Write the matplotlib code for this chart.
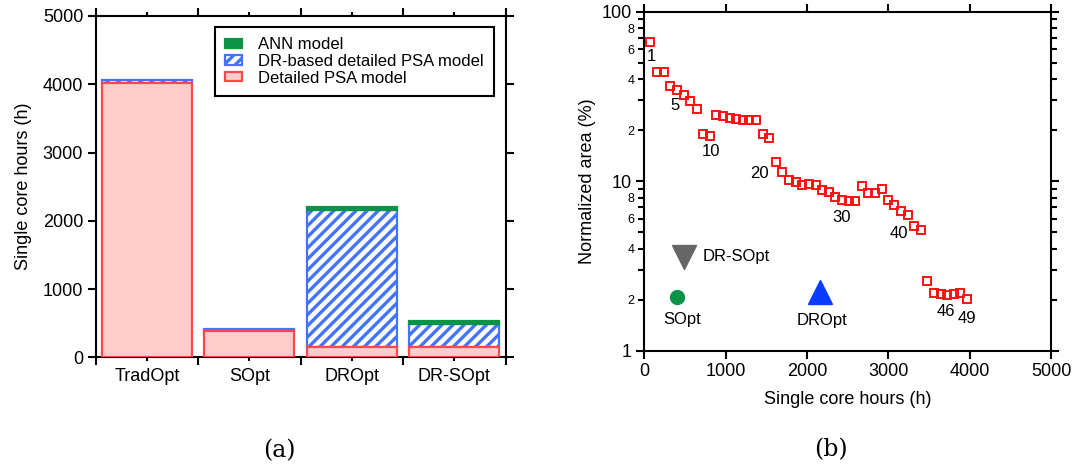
import numpy as np
import matplotlib
matplotlib.use("Agg")
import matplotlib.pyplot as plt
from matplotlib.ticker import FixedLocator, FixedFormatter

plt.rcParams['font.family'] = ['Liberation Sans', 'DejaVu Sans']
plt.rcParams['hatch.linewidth'] = 2.4
plt.rcParams['axes.linewidth'] = 1.5

# (a) stacked core hours per strategy
methods = ['TradOpt', 'SOpt', 'DROpt', 'DR-SOpt']
detailed_psa = [4020, 385, 150, 150]
dr_psa = [40, 35, 2010, 335]
ann = [0, 0, 40, 45]

# (b) normalized area vs. single core hours, one point per iteration
iter_hours = [70, 156, 242, 316, 398, 484, 562, 644, 725, 807,
              881, 971, 1050, 1127, 1209, 1290, 1376, 1455, 1536, 1615,
              1696, 1778, 1861, 1942, 2024, 2107, 2184, 2266, 2347, 2426,
              2512, 2593, 2672, 2749, 2835, 2918, 2995, 3073, 3155, 3237,
              3318, 3401, 3478, 3560, 3643, 3720, 3803, 3884, 3966]
iter_area = [66.5, 44.2, 44.2, 36.7, 34.6, 32.1, 29.9, 26.5, 19.0, 18.6,
             24.5, 24.1, 23.6, 23.2, 23.0, 23.0, 23.0, 19.1, 18.0, 12.9,
             11.3, 10.1, 9.9, 9.5, 9.6, 9.5, 8.9, 8.6, 8.1, 7.7,
             7.6, 7.6, 9.4, 8.55, 8.55, 9.0, 7.7, 7.26, 6.7, 6.3,
             5.46, 5.12, 2.59, 2.20, 2.17, 2.13, 2.16, 2.18, 2.02]
labelled_iters = [1, 5, 10, 20, 30, 40, 46, 49]
label_offsets = {1: (1, -15), 5: (-2, -16), 10: (1, -16), 20: (-16, -11),
                 30: (0, -17), 40: (-9, -18), 46: (-1, -16), 49: (0, -20)}

sopt_hours, sopt_area = 402, 2.08
dropt_hours, dropt_area = 2163, 2.21
drsopt_hours, drsopt_area = 494, 3.55

red_edge = '#ff4848'
red_fill = '#ffcccc'
blue = '#4473ff'
green = '#0b9447'

fig = plt.figure(figsize=(10.74, 4.69), dpi=100)

# ---- left panel
ax1 = fig.add_axes([0.0891, 0.2382, 0.3816, 0.7277])
xpos = np.arange(len(methods))
bot2 = np.array(detailed_psa)
bot3 = bot2 + np.array(dr_psa)
ax1.bar(xpos, detailed_psa, 0.88, facecolor=red_fill, edgecolor=red_edge,
        linewidth=1.6, label='Detailed PSA model', zorder=3)
ax1.bar(xpos, dr_psa, 0.88, bottom=bot2, facecolor='white', edgecolor=blue,
        hatch='///', linewidth=1.6, label='DR-based detailed PSA model', zorder=2)
# no outline where the ANN share is zero
ann_edges = [green if v > 0 else 'none' for v in ann]
bars_ann = ax1.bar(xpos, ann, 0.88, bottom=bot3, facecolor=green,
                   edgecolor=ann_edges, linewidth=1.6, label='ANN model', zorder=2)
ax1.set_xlim(-0.5, 3.5)
ax1.set_ylim(0, 5000)
ax1.set_yticks(np.arange(0, 5001, 1000))
ax1.set_xticks(np.arange(-0.5, 3.6, 1.0))
ax1.set_xticklabels([])
ax1.xaxis.set_minor_locator(FixedLocator(xpos))
ax1.xaxis.set_minor_formatter(FixedFormatter(methods))
ax1.tick_params(axis='x', which='minor', length=3, width=1.5, pad=5,
                labelsize=13, top=True, direction='out')
ax1.tick_params(axis='both', which='major', length=6, width=1.5, pad=3,
                labelsize=13, direction='out', top=True, right=True)
ax1.set_ylabel('Single core hours (h)', fontsize=13, labelpad=8)
h, l = ax1.get_legend_handles_labels()
leg = ax1.legend(h[::-1], l[::-1], loc='upper right', bbox_to_anchor=(0.972, 0.967),
                 borderaxespad=0, fontsize=12, frameon=True, fancybox=False,
                 edgecolor='black', framealpha=1, handlelength=1.0,
                 handleheight=0.5, handletextpad=1.0, labelspacing=0.1,
                 borderpad=0.6)
leg.get_frame().set_linewidth(1.5)
leg.legend_handles[0].set_edgecolor(green)

# ---- right panel
ax2 = fig.add_axes([0.5999, 0.2522, 0.3787, 0.7228])
ax2.plot(iter_hours, iter_area, 's', markersize=5.8, markerfacecolor='none',
         markeredgecolor='#ff1010', markeredgewidth=1.4, zorder=3)
for n in labelled_iters:
    dx, dy = label_offsets[n]
    ax2.annotate(str(n), (iter_hours[n - 1], iter_area[n - 1]),
                 xytext=(dx * 0.72, dy * 0.72), textcoords='offset points',
                 ha='center', va='center', fontsize=12)

ax2.plot(sopt_hours, sopt_area, 'o', markersize=10, color=green, zorder=3)
ax2.annotate('SOpt', (sopt_hours, sopt_area), xytext=(4, -16),
             textcoords='offset points', ha='center', va='center', fontsize=12)
ax2.plot(dropt_hours, dropt_area, '^', markersize=17, color='#0a3cff', zorder=3)
ax2.annotate('DROpt', (dropt_hours, dropt_area), xytext=(1, -20),
             textcoords='offset points', ha='center', va='center', fontsize=12)
ax2.plot(drsopt_hours, drsopt_area, 'v', markersize=17, color='#666666', zorder=3)
ax2.annotate('DR-SOpt', (drsopt_hours, drsopt_area), xytext=(13, 1),
             textcoords='offset points', ha='left', va='center', fontsize=12)

ax2.set_yscale('log')
ax2.set_xlim(0, 5000)
ax2.set_ylim(1, 100)
ax2.set_xticks(np.arange(0, 5001, 1000))
ax2.yaxis.set_major_locator(FixedLocator([1, 10, 100]))
ax2.yaxis.set_major_formatter(FixedFormatter(['1', '10', '100']))
minor_vals = [m * d for d in (1, 10) for m in range(2, 10)]
minor_txt = [str(m) if m % 2 == 0 else '' for d in (1, 10) for m in range(2, 10)]
ax2.yaxis.set_minor_locator(FixedLocator(minor_vals))
ax2.yaxis.set_minor_formatter(FixedFormatter(minor_txt))
ax2.tick_params(axis='both', which='major', length=6, width=1.5, pad=3,
                labelsize=13, direction='out', top=True, right=True)
ax2.tick_params(axis='y', which='minor', length=4, width=1.5, pad=3,
                labelsize=9, direction='out', right=True)
ax2.set_xlabel('Single core hours (h)', fontsize=13, labelpad=8)
ax2.set_ylabel('Normalized area (%)', fontsize=13, labelpad=4)

fig.text(279 / 1074, 1 - 451 / 469, '(a)', family='DejaVu Serif', fontsize=17,
         ha='center', va='center')
fig.text(831 / 1074, 1 - 450 / 469, '(b)', family='DejaVu Serif', fontsize=17,
         ha='center', va='center')

fig.savefig('out.png', dpi=100)
